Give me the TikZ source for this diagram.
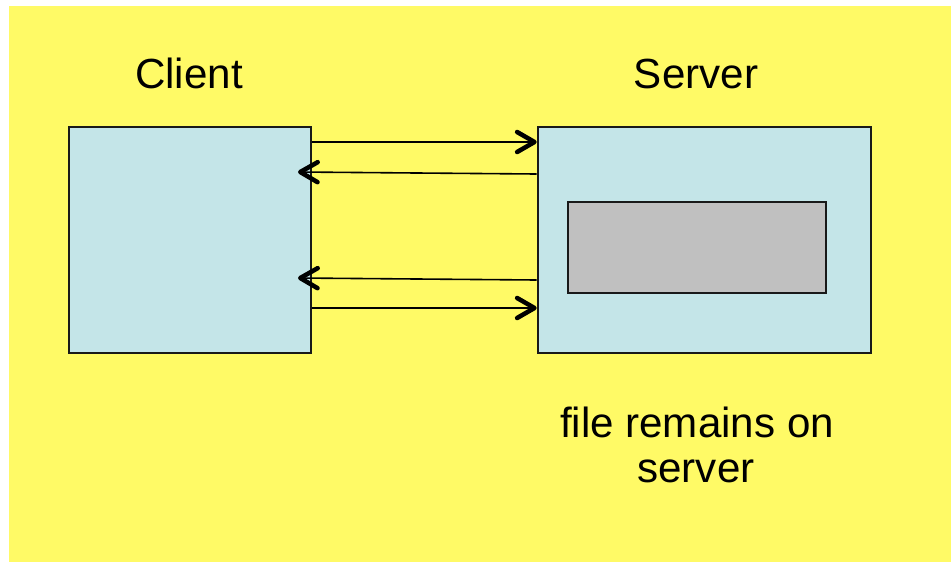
\documentclass[tikz,border=0pt]{standalone}
\usepackage{fontspec}
\setmainfont{Liberation Sans}
\usetikzlibrary{arrows.meta,fit}
\definecolor{bgyellow}{RGB}{255,250,102}
\definecolor{boxblue}{RGB}{196,229,232}
\definecolor{filegray}{RGB}{192,192,192}
\begin{document}
\begin{tikzpicture}[x=0.75pt,y=-0.75pt,
  machine/.style={draw=black!90, line width=1.9pt, fill=boxblue, inner sep=0pt},
  filebox/.style={draw=black!90, line width=1.8pt, fill=filegray, inner sep=0pt},
  msg/.style={line width=1.2pt, -{Straight Barb[length=13pt,width=15pt,line width=3.4pt,round]}},
  caption/.style={font=\fontsize{31.6}{36}\selectfont, anchor=base, inner sep=0pt}]
  % canvas
  \useasboundingbox (0,0) rectangle (951,562);
  \fill[bgyellow] (9,6) rectangle (951,562);

  % machines
  \node[machine, fit={(69,127) (311,353)}] (client) {};
  \node[machine, fit={(538,127) (871,353)}] (server) {};
  \node[filebox, fit={(568,202) (826,293)}] (file) {};

  % titles and note
  \node[caption] (clientlbl) at (189,88) {Client};
  \node[caption] (serverlbl) at (696,88) {Server};
  \node[caption] (note1) at (697,437) {file remains on};
  \node[caption] (note2) at (696,482) {server};

  % request / reply lines
  \coordinate (r1) at (0,142);
  \coordinate (r2) at (0,174);
  \coordinate (r3) at (0,280);
  \coordinate (r4) at (0,308);
  \coordinate (back1) at (298,172);
  \coordinate (back2) at (298,278);
  \draw[msg] (client.east |- r1) -- (server.west |- r1);
  \draw[msg] (server.west |- r2) -- (back1);
  \draw[msg] (server.west |- r3) -- (back2);
  \draw[msg] (client.east |- r4) -- (server.west |- r4);
\end{tikzpicture}
\end{document}
